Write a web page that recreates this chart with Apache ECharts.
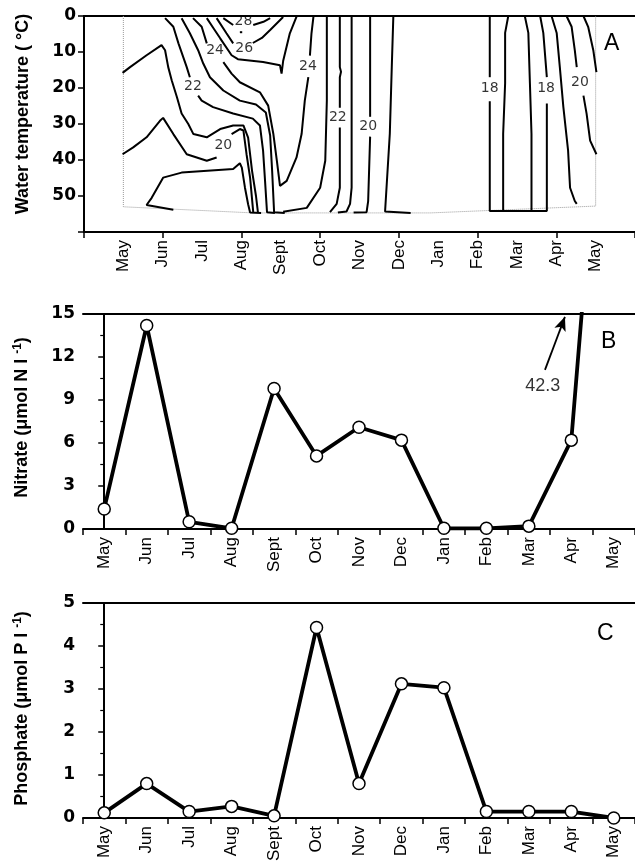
<!DOCTYPE html>
<html><head><meta charset="utf-8">
<script src="https://cdn.jsdelivr.net/npm/echarts@6/dist/echarts.min.js"></script>
<style>html,body{margin:0;padding:0;background:#fff}#c{width:635px;height:864px}</style>
</head><body><div id="c"></div>
<script>
// ---------- data ----------
const months = ['May','Jun','Jul','Aug','Sept','Oct','Nov','Dec','Jan','Feb','Mar','Apr','May'];
const nitrate = [1.4, 14.2, 0.5, 0.05, 9.8, 5.1, 7.1, 6.2, 0.05, 0.05, 0.2, 6.2, 42.3];
const phosphate = [0.12, 0.8, 0.15, 0.27, 0.05, 4.43, 0.8, 3.12, 3.03, 0.15, 0.15, 0.15, 0.0];
const nitrateNote = ['42.3', 10.33, 10.0];
const nitrateArrow = [[10.38, 11.1], [10.85, 14.8]];

// Isotherm segments, points as [month position (1 = May), depth (m)]
const iso18 = [
  [[10.31,0],[10.31,17.0]],
  [[10.31,23.7],[10.31,54.2],[11.76,54.2],[11.76,24.3]],
  [[11.76,17.0],[11.67,4.7],[11.59,0]]
];
const iso17 = [
  [[10.78,0],[10.70,4.7],[10.70,18.7],[10.65,32.7],[10.65,54.2]],
  [[11.20,0],[11.29,4.7],[11.33,18.7],[11.37,32.7],[11.37,54.2]]
];
const iso19 = [
  [[2.27,53.8],[1.59,52.5],[1.72,50.5],[2.01,44.9],[2.48,43.5],[3.79,42.5],[3.96,40.9],[4.01,42.1],[4.09,47.7],[4.17,52.3],[4.22,54.6],[4.5,54.7]],
  [[8.3,54.7],[7.65,54.3],[7.77,32.7],[7.82,14.2],[7.86,0]],
  [[11.88,0],[12.01,4.7],[12.09,14.2],[12.18,25.3],[12.30,37.4],[12.35,47.7],[12.47,51.4],[12.52,52.2]]
];
const iso20 = [
  [[0.98,38.4],[1.25,36.5],[1.59,33.7],[1.93,29.1],[2.01,28.3],[2.27,32.8],[2.61,38.4],[3.12,40.2],[3.37,39.3]],
  [[3.75,32.8],[3.96,31.4],[4.05,31.8],[4.13,38.4],[4.22,44.9],[4.30,54.5]],
  [[7.27,0],[7.27,28.0]],
  [[7.27,33.5],[7.22,51.4],[7.18,54.5],[6.85,54.6]],
  [[12.26,0],[12.39,3.0],[12.47,9.5],[12.52,14.2]],
  [[12.69,22.1],[12.77,27.1],[12.86,34.6],[13.02,38.4]]
];
const iso21 = [
  [[0.98,15.8],[1.17,14.2],[1.59,10.9],[1.97,8.1],[2.06,9.5],[2.14,14.2],[2.23,17.9],[2.36,22.5],[2.48,27.1],[2.65,30.0],[2.78,32.8],[3.12,33.7],[3.46,31.4],[3.79,30.4],[4.05,30.4],[4.17,33.8],[4.27,43.0],[4.37,50.0],[4.42,54.6]],
  [[6.80,0],[6.80,47.7],[6.76,52.2],[6.67,54.3],[6.45,54.6]],
  [[12.69,0],[12.81,3.0],[12.94,9.5],[13.02,15.6]]
];
const iso22 = [
  [[2.06,0.6],[2.27,3.0],[2.40,7.6],[2.61,14.2],[2.69,17.0]],
  [[2.90,22.1],[2.99,23.5],[3.28,25.3],[3.79,27.1],[4.29,28.5],[4.47,30.4],[4.55,37.4],[4.60,45.8],[4.65,54.5],[4.85,54.7]],
  [[6.50,0],[6.50,14.2],[6.53,15.5],[6.50,17.0],[6.50,25.5]],
  [[6.50,31.0],[6.50,47.7],[6.42,52.2],[6.25,54.5]]
];
const iso23 = [
  [[2.48,0.6],[2.69,4.8],[2.90,9.5],[3.03,13.2],[3.20,17.0],[3.54,20.7],[3.96,23.5],[4.37,24.6],[4.62,26.8],[4.73,33.2],[4.78,43.0],[4.83,54.5],[5.1,54.7]],
  [[6.17,0],[6.17,23.5],[6.13,40.2],[6.00,47.7],[5.66,53.3],[5.06,54.4]]
];
const iso24 = [
  [[2.77,0.6],[2.99,3.0],[3.12,7.6]],
  [[3.54,12.8],[3.75,16.0],[3.96,18.4],[4.47,21.2],[4.68,24.9],[4.81,32.7],[4.90,40.2],[4.98,47.2],[5.15,45.8],[5.40,39.3],[5.53,32.7],[5.61,23.5],[5.70,17.0]],
  [[5.74,11.0],[5.78,4.8],[5.83,0.2]]
];
const iso25 = [
  [[3.12,0.6],[3.29,3.4],[3.46,6.2],[3.75,10.9],[3.91,12.0],[4.55,12.8],[4.98,13.7],[5.02,16.0],[5.06,12.5],[5.23,4.8],[5.40,0.2]]
];
const iso26 = [
  [[3.37,0.6],[3.62,4.8],[3.79,7.6]],
  [[4.29,7.5],[4.52,6.1],[4.73,3.9],[5.06,0.3]]
];
const iso28 = [
  [[3.54,0.6],[3.79,2.5]],
  [[4.30,2.5],[4.56,1.6],[4.73,0.6]],
  [[3.96,4.5],[4.02,4.5]]
];
// contour labels: [text, month position, depth]
const isoLabels = [
  ['28',4.05,1.5],['26',4.07,8.9],['24',3.33,9.5],['24',5.69,13.9],['22',2.77,19.6],['22',6.45,28.2],
  ['20',3.54,36.0],['20',7.22,30.7],['18',10.31,20.2],['18',11.74,20.2],['20',12.60,18.4]
];
// sampled area outline: [month position, depth]
const basin = [[1,0],[1,53.0],[4.3,54.7],[8.8,54.7],[13,52.8],[13,0]];

// ---------- chart ----------
const FONT = 'Liberation Sans';
const NUMFONT = 'DejaVu Sans';
const black = '#000';
const chart = echarts.init(document.getElementById('c'), null, {renderer:'canvas'});

const grids = [
  {left:84, top:16, width:551, height:216},
  {left:83, top:314, width:552, height:215},
  {left:83, top:603, width:552, height:215}
];

const monthLabel = {rotate:90, fontSize:17, color:black, fontFamily:FONT, margin:8};
const lineAx = {show:true, lineStyle:{color:black, width:2}};
const tickOut = {show:true, inside:false, length:6, lineStyle:{color:black, width:1.5}};

const xAxes = [
  {gridIndex:0, type:'value', min:0, max:14, interval:1, position:'bottom', axisLine:lineAx,
   axisTick:{show:false}, splitLine:{show:false},
   axisLabel:Object.assign({}, monthLabel, {formatter: v => months[v-1] || '', showMinLabel:true, showMaxLabel:true})},
  {gridIndex:0, type:'value', min:0, max:14, interval:2, position:'bottom', axisLine:lineAx,
   axisTick:tickOut, axisLabel:{show:false}, splitLine:{show:false}},
  {gridIndex:0, type:'value', min:0, max:14, position:'top', axisLine:lineAx,
   axisTick:{show:false}, axisLabel:{show:false}, splitLine:{show:false}},
  {gridIndex:1, type:'category', data:months, boundaryGap:true, position:'bottom', axisLine:lineAx,
   axisTick:tickOut, axisLabel:Object.assign({interval:0}, monthLabel)},
  {gridIndex:1, type:'value', min:-0.5, max:12.5, position:'top', axisLine:lineAx,
   axisTick:{show:false}, axisLabel:{show:false}, splitLine:{show:false}},
  {gridIndex:2, type:'category', data:months, boundaryGap:true, position:'bottom', axisLine:lineAx,
   axisTick:tickOut, axisLabel:Object.assign({interval:0}, monthLabel)},
  {gridIndex:2, type:'value', min:-0.5, max:12.5, position:'top', axisLine:lineAx,
   axisTick:{show:false}, axisLabel:{show:false}, splitLine:{show:false}}
];

const yLabel = {fontSize:17, fontWeight:'bold', color:black, fontFamily:NUMFONT, margin:8};
const nameStyle = {fontSize:18, fontWeight:'bold', color:black, fontFamily:FONT,
  rich:{sup:{fontSize:12, fontWeight:'bold', color:black, fontFamily:FONT, verticalAlign:'top', padding:[0,0,9,0]}}};

const yAxes = [
  {gridIndex:0, type:'value', inverse:true, min:0, max:60, interval:10, axisLine:lineAx, axisTick:tickOut,
   splitLine:{show:false}, axisLabel:Object.assign({}, yLabel, {formatter: v => v === 60 ? '' : String(v)}),
   name:'Water temperature ( °C)', nameLocation:'middle', nameGap:52,
   nameTextStyle:Object.assign({}, nameStyle, {padding:[0,0,0,20]})},
  {gridIndex:1, type:'value', min:0, max:15, interval:3, axisLine:lineAx, axisTick:tickOut,
   minorTick:{show:true, splitNumber:2, length:4, lineStyle:{color:black, width:1.2}},
   splitLine:{show:false}, axisLabel:yLabel,
   name:'Nitrate (μmol N l {sup|-1})', nameLocation:'middle', nameGap:50,
   nameTextStyle:Object.assign({}, nameStyle, {padding:[0,0,0,8]})},
  {gridIndex:2, type:'value', min:0, max:5, interval:1, axisLine:lineAx, axisTick:tickOut,
   minorTick:{show:true, splitNumber:2, length:4, lineStyle:{color:black, width:1.2}},
   splitLine:{show:false}, axisLabel:yLabel,
   name:'Phosphate (μmol P l {sup|-1})', nameLocation:'middle', nameGap:50,
   nameTextStyle:Object.assign({}, nameStyle, {padding:[0,0,0,4]})}
];

const series = [];
series.push({type:'line', xAxisIndex:0, yAxisIndex:0, data:basin, symbol:'none', silent:true,
  lineStyle:{color:'#9a9a9a', width:1, type:'dotted'}, z:1});
[iso17, iso18, iso19, iso20, iso21, iso22, iso23, iso24, iso25, iso26, iso28].forEach(segs => {
  segs.forEach(seg => series.push({type:'line', xAxisIndex:0, yAxisIndex:0, data:seg, symbol:'none',
    silent:true, lineStyle:{color:black, width:2}, z:3}));
});
series.push({type:'scatter', xAxisIndex:0, yAxisIndex:0, symbolSize:1, silent:true,
  itemStyle:{color:'rgba(0,0,0,0)'},
  data: isoLabels.map(l => ({name:l[0], value:[l[1], l[2]]})),
  label:{show:true, position:'inside', formatter:'{b}', color:black, fontSize:14, fontFamily:NUMFONT}, z:5});

const markStyle = {symbol:'circle', symbolSize:12, showAllSymbol:true,
  itemStyle:{color:'#fff', borderColor:black, borderWidth:1.5},
  lineStyle:{color:black, width:3.8}, clip:true, z:4};
series.push(Object.assign({type:'line', xAxisIndex:3, yAxisIndex:1, data:nitrate}, markStyle));
series.push(Object.assign({type:'line', xAxisIndex:5, yAxisIndex:2, data:phosphate}, markStyle));

series.push({type:'scatter', xAxisIndex:4, yAxisIndex:1, symbolSize:1, silent:true,
  itemStyle:{color:'rgba(0,0,0,0)'},
  data:[{name:nitrateNote[0], value:[nitrateNote[1], nitrateNote[2]]}],
  label:{show:true, position:'inside', formatter:'{b}', color:black, fontSize:18, fontFamily:FONT},
  markLine:{silent:true, symbol:['none','arrow'], symbolSize:[9,14], label:{show:false},
    lineStyle:{color:black, width:1.8, type:'solid'},
    data:[[{coord:nitrateArrow[0]}, {coord:nitrateArrow[1]}]]}, z:5});

chart.setOption({
  animation:false,
  backgroundColor:'#fff',
  grid:grids,
  xAxis:xAxes,
  yAxis:yAxes,
  series:series,
  graphic:[
    {type:'text', left:604, top:32, style:{text:'A', fontSize:23, fontFamily:FONT, fill:black}},
    {type:'text', left:601, top:330, style:{text:'B', fontSize:23, fontFamily:FONT, fill:black}},
    {type:'text', left:597, top:622, style:{text:'C', fontSize:23, fontFamily:FONT, fill:black}}
  ]
});
</script></body></html>
